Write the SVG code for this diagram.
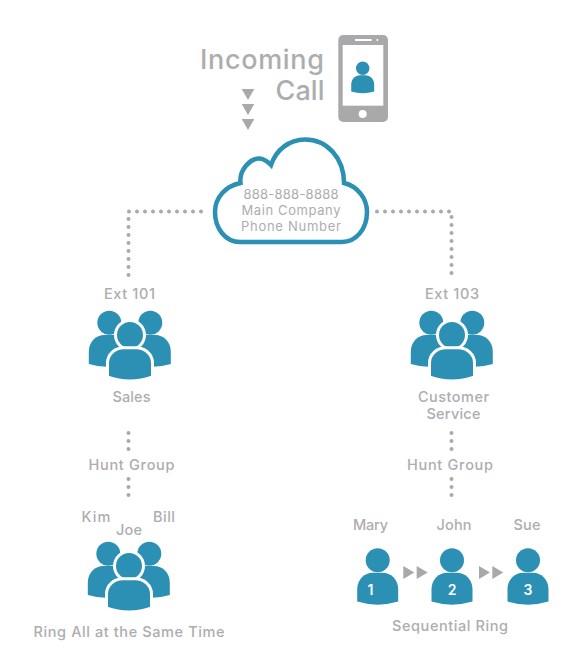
<svg xmlns="http://www.w3.org/2000/svg" width="577" height="671" viewBox="0 0 577 671">
<style>
text{font-family:"Inter","Open Sans","Liberation Sans",sans-serif;fill:#adadaf;font-weight:500;font-size:14.500px;text-anchor:middle}
.big{font-size:27px;font-weight:500}
.cl{font-size:13px;font-weight:400}
.num{fill:#fff;font-weight:600;font-size:14px}
.blue{fill:#2b90b4}
.gray{fill:#a9a9ab}
.dots{fill:none;stroke:#a9a9ab;stroke-width:4;stroke-linecap:round;stroke-dasharray:0 8}
</style>
<defs>
<path id="body" d="M-20.500,41.300V29C-20.500,19 -13,12.400 -5,12.400H5C13,12.400 20.500,19 20.500,29V41.300Q0,47.500 -20.500,41.300Z"/>
<g id="person" class="blue"><circle cx="0" cy="0" r="12"/><use href="#body"/></g>
<g id="group3">
<use href="#person" x="-20.700" y="-12.300"/>
<use href="#person" x="20.300" y="-12.300"/>
<circle cx="0" cy="0" r="14.500" class="blue" stroke="#fff" stroke-width="3"/>
<path class="blue" stroke="#fff" stroke-width="3" d="M-22.500,42V28C-22.500,19 -15,12.800 -6,12.800H6C15,12.800 22.500,19 22.500,28V42Q0,50 -22.500,42Z"/>
</g>
<polygon id="tri" class="gray" points="-6.300,0 6.300,0 0,11"/>
<polygon id="tri-r" class="gray" points="0,0 11,6.500 0,13"/>
</defs>

<g id="connectors">
<path class="dots" d="M128.500,275V211.500H205"/>
<path class="dots" d="M377,211.500H451.500V277"/>
<path class="dots" d="M128.500,433V453"/>
<path class="dots" d="M128.500,479V499"/>
<path class="dots" d="M451.500,433V453"/>
<path class="dots" d="M451.500,479V499"/>
<use href="#tri" x="248" y="89"/>
<use href="#tri" x="248" y="104"/>
<use href="#tri" x="248" y="119"/>
<use href="#tri-r" x="403.300" y="566"/>
<use href="#tri-r" x="416.700" y="566"/>
<use href="#tri-r" x="479" y="566"/>
<use href="#tri-r" x="492.300" y="566"/>
</g>

<g id="incoming">
<text class="big" x="324" y="68.500" style="text-anchor:end" textLength="124">Incoming</text>
<text class="big" x="324.500" y="100" style="text-anchor:end" textLength="49">Call</text>
</g>
<g id="phone">
<rect x="338.300" y="35" width="49.700" height="87" rx="5" class="gray"/>
<rect x="342.700" y="45" width="40.600" height="60.700" fill="#fff"/>
<rect x="355" y="39" width="16.700" height="2" fill="#fff"/>
<circle cx="377.300" cy="40" r="1" fill="#fff"/>
<circle cx="362.700" cy="114" r="4" fill="#fff"/>
<use href="#person" transform="translate(362.700,68.300) scale(0.56)"/>
</g>
<g id="cloud">
<path d="M240,242C225,242 215,228 215,212C215,197 226,186 240.500,183C239,170 250,158 260,158.500C264,159 268,162 271,165C276,150 289,139.500 305,139.500C327,139.500 344,158 344,183C357,186 367,198 367,212C367,229 356,242 342,242Z" fill="#fff" stroke="#2b90b4" stroke-width="4.500"/>
<text class="cl" x="291" y="199" textLength="95">888-888-8888</text>
<text class="cl" x="291" y="215" textLength="99">Main Company</text>
<text class="cl" x="291" y="231" textLength="100">Phone Number</text>
</g>
<g id="sales">
<text x="129.500" y="299" textLength="51">Ext 101</text>
<use href="#group3" x="130" y="335"/>
<text x="131.500" y="402" textLength="38">Sales</text>
</g>
<g id="customer-service">
<text x="452" y="299" textLength="54">Ext 103</text>
<use href="#group3" x="452" y="335"/>
<text x="453.500" y="402" textLength="71">Customer</text>
<text x="453.500" y="419" textLength="54">Service</text>
</g>
<g id="hunt-left"><text x="131.500" y="470" textLength="86">Hunt Group</text></g>
<g id="hunt-right"><text x="450" y="470" textLength="86">Hunt Group</text></g>
<g id="ring-all">
<text x="96" y="522" textLength="29">Kim</text>
<text x="129" y="535" textLength="26">Joe</text>
<text x="164" y="522" textLength="22">Bill</text>
<use href="#group3" x="129" y="566"/>
<text x="129" y="637" textLength="191">Ring All at the Same Time</text>
</g>
<g id="mary"><text x="370.500" y="530" textLength="35">Mary</text><use href="#person" x="377.700" y="560.300"/><text class="num" x="370.500" y="595">1</text></g>
<g id="john"><text x="454" y="530" textLength="35">John</text><use href="#person" x="452" y="560.300"/><text class="num" x="452" y="595">2</text></g>
<g id="sue"><text x="527" y="530" textLength="27">Sue</text><use href="#person" x="528" y="560.300"/><text class="num" x="528" y="595">3</text></g>
<text x="450" y="631" textLength="116">Sequential Ring</text>
</svg>
